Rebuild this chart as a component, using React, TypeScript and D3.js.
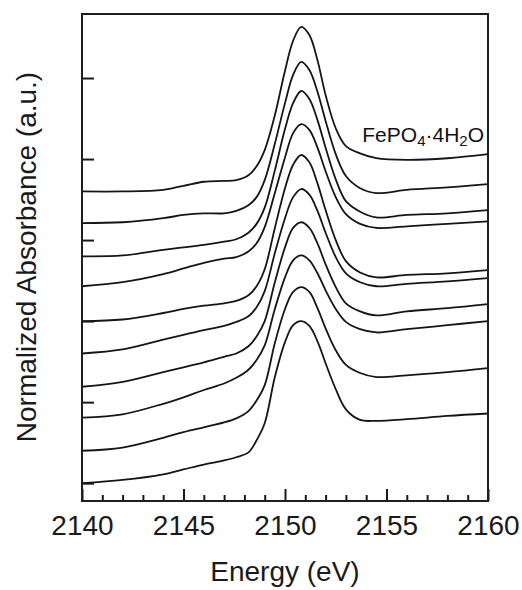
import React, { useEffect, useRef } from 'react';
import * as d3 from 'd3';

// energy grid shared by all spectra (eV)
const energies = [
  2140, 2142, 2144, 2145, 2146, 2147, 2147.6, 2148.2, 2148.6, 2149, 2149.5, 2150,
  2150.4, 2150.8, 2151.2, 2151.6, 2152, 2152.5, 2153, 2153.7, 2154.5, 2156, 2158, 2160,
];

// stacked normalized absorbance (offset included), top trace first
const fePO4 = [3.60, 3.60, 3.62, 3.67, 3.72, 3.73, 3.74, 3.80, 3.91, 4.11, 4.54, 5.09, 5.46, 5.63, 5.53, 5.22, 4.79, 4.38, 4.16, 4.07, 4.01, 3.99, 4.01, 4.06];
const trace1 = [3.21, 3.22, 3.27, 3.31, 3.33, 3.33, 3.36, 3.43, 3.53, 3.74, 4.19, 4.69, 5.04, 5.20, 5.10, 4.83, 4.47, 4.06, 3.79, 3.64, 3.58, 3.62, 3.65, 3.69];
const trace2 = [2.80, 2.81, 2.88, 2.91, 2.94, 2.98, 3.01, 3.09, 3.20, 3.40, 3.86, 4.37, 4.69, 4.84, 4.74, 4.48, 4.14, 3.75, 3.48, 3.35, 3.28, 3.31, 3.33, 3.37];
const trace3 = [2.43, 2.48, 2.58, 2.65, 2.72, 2.77, 2.79, 2.86, 2.96, 3.16, 3.58, 4.02, 4.32, 4.43, 4.36, 4.14, 3.85, 3.53, 3.32, 3.20, 3.15, 3.17, 3.20, 3.23];
const trace4 = [2.00, 2.02, 2.10, 2.15, 2.19, 2.22, 2.25, 2.32, 2.43, 2.64, 3.15, 3.64, 3.93, 4.05, 3.96, 3.70, 3.37, 3.00, 2.74, 2.60, 2.54, 2.57, 2.59, 2.63];
const trace5 = [1.60, 1.65, 1.77, 1.83, 1.89, 1.94, 1.99, 2.06, 2.17, 2.37, 2.84, 3.27, 3.53, 3.63, 3.56, 3.36, 3.09, 2.79, 2.59, 2.48, 2.43, 2.46, 2.49, 2.53];
const trace6 = [1.19, 1.25, 1.37, 1.43, 1.49, 1.56, 1.60, 1.69, 1.81, 2.00, 2.48, 2.91, 3.15, 3.22, 3.15, 2.96, 2.70, 2.42, 2.22, 2.12, 2.07, 2.12, 2.16, 2.21];
const trace7 = [0.81, 0.85, 0.98, 1.06, 1.15, 1.23, 1.30, 1.40, 1.52, 1.70, 2.15, 2.54, 2.75, 2.81, 2.75, 2.59, 2.38, 2.15, 1.99, 1.90, 1.86, 1.90, 1.95, 2.00];
const trace8 = [0.40, 0.44, 0.56, 0.63, 0.69, 0.75, 0.80, 0.89, 1.02, 1.21, 1.73, 2.15, 2.36, 2.42, 2.36, 2.16, 1.91, 1.64, 1.46, 1.36, 1.31, 1.33, 1.37, 1.42];
const trace9 = [0.00, 0.04, 0.11, 0.17, 0.23, 0.28, 0.32, 0.38, 0.53, 0.74, 1.31, 1.74, 1.95, 2.00, 1.94, 1.75, 1.48, 1.16, 0.91, 0.78, 0.77, 0.79, 0.83, 0.86];

const spectra = [fePO4, trace1, trace2, trace3, trace4, trace5, trace6, trace7, trace8, trace9];

const xTicks = [2140, 2145, 2150, 2155, 2160];
const xMinorTicks = [2141, 2142, 2143, 2144, 2146, 2147, 2148, 2149, 2151, 2152, 2153, 2154, 2156, 2157, 2158, 2159];
const yTicks = [0, 1, 2, 3, 4, 5];

const FONT = '"Liberation Sans", Arial, Helvetica, sans-serif';

export default function App() {
  const ref = useRef<SVGSVGElement>(null);

  useEffect(() => {
    const width = 522;
    const height = 590;
    const margin = { top: 14, right: 34, bottom: 89, left: 82 };
    const innerW = width - margin.left - margin.right;
    const innerH = height - margin.top - margin.bottom;

    const svg = d3.select(ref.current);
    svg.selectAll('*').remove();

    const g = svg.append('g').attr('transform', `translate(${margin.left},${margin.top})`);

    const x = d3.scaleLinear().domain([2140, 2160]).range([0, innerW]);
    const y = d3.scaleLinear().domain([-0.22, 5.79]).range([innerH, 0]);

    const line = d3
      .line<number>()
      .x((_, i) => x(energies[i]))
      .y((d) => y(d))
      .curve(d3.curveCatmullRom.alpha(0.5));

    g.selectAll('path.trace')
      .data(spectra)
      .enter()
      .append('path')
      .attr('class', 'trace')
      .attr('d', (d) => line(d))
      .attr('fill', 'none')
      .attr('stroke', '#151515')
      .attr('stroke-width', 1.8);

    // minor x ticks
    g.append('g')
      .attr('transform', `translate(0,${innerH})`)
      .call(d3.axisBottom(x).tickValues(xMinorTicks).tickSize(-6).tickFormat(() => ''))
      .call((a) => a.select('.domain').remove())
      .call((a) => a.selectAll('line').attr('stroke', '#1a1a1a').attr('stroke-width', 2));

    // major x ticks + labels
    g.append('g')
      .attr('transform', `translate(0,${innerH})`)
      .call(d3.axisBottom(x).tickValues(xTicks).tickSize(-12).tickPadding(14).tickFormat(d3.format('d')))
      .call((a) => a.select('.domain').remove())
      .call((a) => a.selectAll('line').attr('stroke', '#1a1a1a').attr('stroke-width', 2))
      .call((a) =>
        a.selectAll('text').attr('fill', '#1a1a1a').style('font-size', '28px').style('font-family', FONT)
      );

    // left y ticks, no labels
    g.append('g')
      .call(d3.axisLeft(y).tickValues(yTicks).tickSize(-12).tickFormat(() => ''))
      .call((a) => a.select('.domain').remove())
      .call((a) => a.selectAll('line').attr('stroke', '#1a1a1a').attr('stroke-width', 2));

    // frame
    g.append('rect')
      .attr('x', 0)
      .attr('y', 0)
      .attr('width', innerW)
      .attr('height', innerH)
      .attr('fill', 'none')
      .attr('stroke', '#1e1e1e')
      .attr('stroke-width', 2);

    // axis titles
    svg
      .append('text')
      .attr('x', margin.left + innerW / 2)
      .attr('y', 581)
      .attr('text-anchor', 'middle')
      .attr('fill', '#1a1a1a')
      .style('font-size', '28px')
      .style('font-family', FONT)
      .text('Energy (eV)');

    svg
      .append('text')
      .attr('transform', `translate(36,${margin.top + 243}) rotate(-90)`)
      .attr('text-anchor', 'middle')
      .attr('fill', '#1a1a1a')
      .style('font-size', '28px')
      .style('font-family', FONT)
      .text('Normalized Absorbance (a.u.)');

    // sample label
    const lab = g
      .append('text')
      .attr('x', innerW - 4)
      .attr('y', 128)
      .attr('text-anchor', 'end')
      .attr('fill', '#111')
      .style('font-size', '21px')
      .style('font-family', FONT);
    lab.append('tspan').text('FePO');
    lab.append('tspan').attr('dy', 4).style('font-size', '15px').text('4');
    lab.append('tspan').attr('dy', -4).text('·4H');
    lab.append('tspan').attr('dy', 4).style('font-size', '15px').text('2');
    lab.append('tspan').attr('dy', -4).text('O');
  }, []);

  return (
    <svg
      ref={ref}
      width={522}
      height={590}
      style={{ position: 'absolute', left: 0, top: 0, background: '#fff' }}
    />
  );
}
